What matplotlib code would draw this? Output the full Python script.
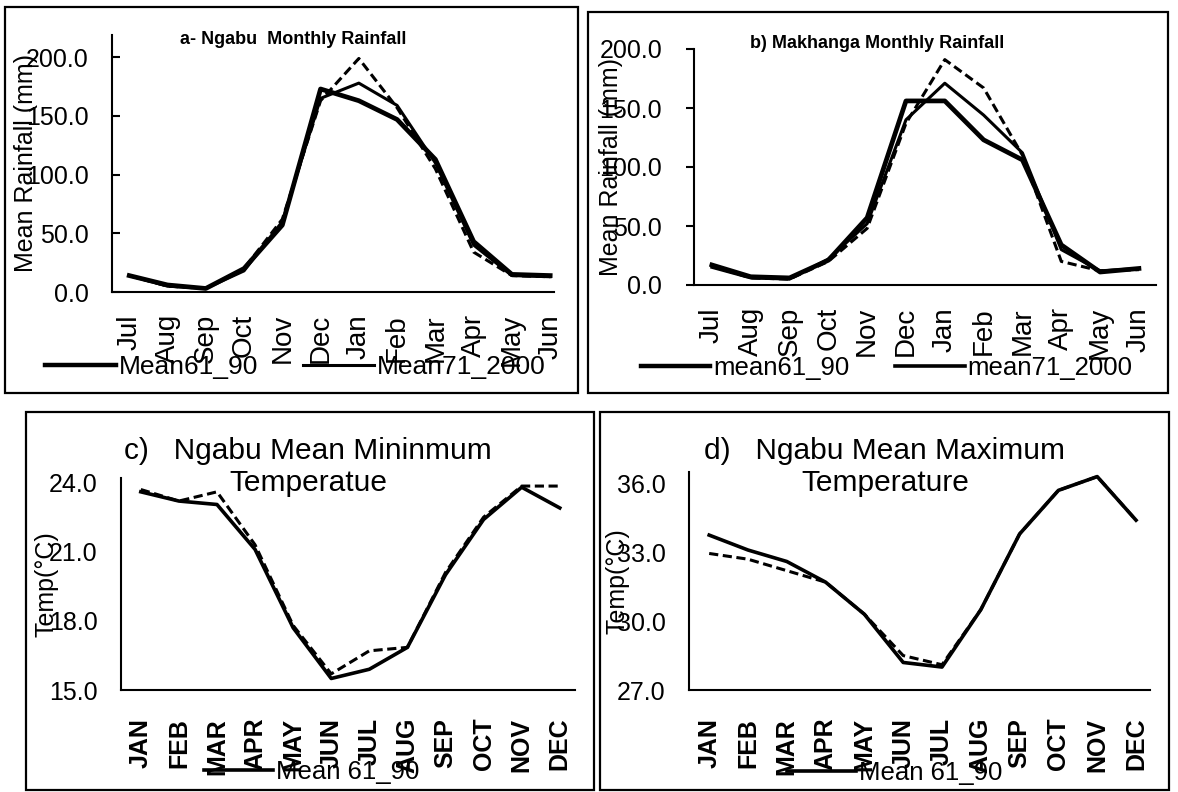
import matplotlib
matplotlib.use('Agg')
import matplotlib.pyplot as plt
from matplotlib.lines import Line2D
from matplotlib.patches import Rectangle

plt.rcParams['font.family'] = ['Liberation Sans', 'DejaVu Sans']

W, H = 1178, 792

# --- data ---
months_rain = ['Jul', 'Aug', 'Sep', 'Oct', 'Nov', 'Dec', 'Jan', 'Feb', 'Mar', 'Apr', 'May', 'Jun']
ngabu_61_90 = [14, 6, 3, 20, 57, 173, 163, 147, 113, 43, 15, 14]
ngabu_71_2000 = [14, 5, 3, 18, 60, 165, 178, 159, 110, 40, 14, 13]
ngabu_other = [14, 5, 3, 20, 62, 163, 199, 157, 105, 34, 14, 13]

mak_61_90 = [17, 7, 6, 21, 57, 156, 156, 123, 106, 34, 11, 14]
mak_71_2000 = [15, 6, 5, 22, 52, 140, 171, 144, 112, 30, 12, 14]
mak_other = [16, 6, 5, 20, 48, 137, 191, 167, 110, 20, 12, 13]

months_temp = ['JAN', 'FEB', 'MAR', 'APR', 'MAY', 'JUN', 'JUL', 'AUG', 'SEP', 'OCT', 'NOV', 'DEC']
tmin_61_90 = [23.6, 23.2, 23.05, 21.1, 17.7, 15.5, 15.9, 16.85, 20.0, 22.4, 23.8, 22.9]
tmin_other = [23.7, 23.2, 23.6, 21.3, 17.8, 15.7, 16.7, 16.85, 20.1, 22.5, 23.85, 23.85]

tmax_61_90 = [33.75, 33.1, 32.6, 31.7, 30.3, 28.2, 28.0, 30.5, 33.8, 35.7, 36.3, 34.4]
tmax_other = [32.95, 32.7, 32.2, 31.7, 30.3, 28.5, 28.1, 30.5, 33.8, 35.7, 36.3, 34.4]


def box(x0, y0, x1, y1):
    # pixel box (top-left origin) -> figure fraction rect
    return [x0 / W, 1 - y1 / H, (x1 - x0) / W, (y1 - y0) / H]


def frame(fig, x0, y0, x1, y1):
    r = Rectangle((x0 / W, 1 - y1 / H), (x1 - x0) / W, (y1 - y0) / H,
                  transform=fig.transFigure, fill=False, lw=1.6, ec='black')
    fig.patches.append(r)


def style(ax, labels, ylim, yticks, xlim, bold=False, tickdir='out', ticklen=0,
          xsize=18, xpad=20):
    for s in ['top', 'right']:
        ax.spines[s].set_visible(False)
    for s in ['left', 'bottom']:
        ax.spines[s].set_linewidth(1.5)
    ax.set_xlim(*xlim)
    ax.set_ylim(*ylim)
    ax.set_xticks(range(len(labels)))
    ax.set_xticklabels(labels, rotation=90, fontsize=xsize,
                       fontweight='bold' if bold else 'normal')
    ax.set_yticks(yticks)
    ax.set_yticklabels([f'{v:.1f}' for v in yticks], fontsize=18)
    ax.tick_params(axis='x', length=0, pad=xpad)
    ax.tick_params(axis='y', length=ticklen, direction=tickdir, width=1.5, pad=17)


def ylab(ax, text, xpos):
    ax.set_ylabel(text, fontsize=18, va='center')
    ax.yaxis.set_label_coords(xpos, 0.5)


fig = plt.figure(figsize=(W / 100, H / 100), dpi=100)

frame(fig, 5, 7, 578, 393)
frame(fig, 588, 12, 1168, 393)
frame(fig, 26, 412, 594, 790)
frame(fig, 600, 412, 1169, 790)

x = range(12)
dash = (0, (3, 1.5))

# a) Ngabu rainfall
ax = fig.add_axes(box(112, 35, 554, 292))
ax.plot(x, ngabu_other, color='black', lw=2.2, ls=dash)
ax.plot(x, ngabu_71_2000, color='black', lw=2.2)
ax.plot(x, ngabu_61_90, color='black', lw=3.4)
style(ax, months_rain, (0, 219), [0, 50, 100, 150, 200], (-0.45, 11.1),
      tickdir='in', ticklen=6, xsize=20, xpad=16)
ylab(ax, 'Mean Rainfall (mm)', -0.195)
fig.text(293 / W, 1 - 40 / H, 'a- Ngabu  Monthly Rainfall', fontsize=13,
         fontweight='bold', ha='center', va='center')
fig.legend(handles=[Line2D([], [], color='black', lw=3.2),
                    Line2D([], [], color='black', lw=2.2)],
           labels=['Mean61_90', 'Mean71_2000'], ncol=2, frameon=False,
           fontsize=19, handlelength=2.7, handletextpad=0.1,
           columnspacing=1.7, loc='center left', borderaxespad=0, borderpad=0,
           bbox_to_anchor=(45 / W, 1 - 367 / H))

# b) Makhanga rainfall
ax = fig.add_axes(box(694, 49, 1156, 285))
ax.plot(x, mak_other, color='black', lw=2.2, ls=dash)
ax.plot(x, mak_71_2000, color='black', lw=2.2)
ax.plot(x, mak_61_90, color='black', lw=3.4)
style(ax, months_rain, (0, 200), [0, 50, 100, 150, 200], (-0.46, 11.44),
      tickdir='out', ticklen=6, xsize=20, xpad=16)
ylab(ax, 'Mean Rainfall (mm)', -0.18)
fig.text(877 / W, 1 - 43 / H, 'b) Makhanga Monthly Rainfall', fontsize=13,
         fontweight='bold', ha='center', va='center')
fig.legend(handles=[Line2D([], [], color='black', lw=3.2),
                    Line2D([], [], color='black', lw=2.6)],
           labels=['mean61_90', 'mean71_2000'], ncol=2, frameon=False,
           fontsize=18.5, handlelength=2.7, handletextpad=0.1,
           columnspacing=1.8, loc='center left', borderaxespad=0, borderpad=0,
           bbox_to_anchor=(641 / W, 1 - 368 / H))

# c) Ngabu mean minimum temperature
ax = fig.add_axes(box(121, 478, 575, 690))
ax.plot(x, tmin_other, color='black', lw=2.2, ls=dash)
ax.plot(x, tmin_61_90, color='black', lw=2.6)
style(ax, months_temp, (15, 24.2), [15, 18, 21, 24], (-0.52, 11.4), bold=True)
ylab(ax, 'Temp(°C)', -0.163)
fig.text(308 / W, 1 - 467 / H, 'c)   Ngabu Mean Mininmum\nTemperatue',
         fontsize=21.5, ha='center', va='center', linespacing=1.15)
fig.legend(handles=[Line2D([], [], color='black', lw=2.6)],
           labels=['Mean 61_90'], frameon=False, fontsize=18.5,
           handlelength=2.7, handletextpad=0.1, loc='center left',
           borderaxespad=0, borderpad=0,
           bbox_to_anchor=(204 / W, 1 - 772 / H))

# d) Ngabu mean maximum temperature
ax = fig.add_axes(box(689, 472, 1150, 690))
ax.plot(x, tmax_other, color='black', lw=2.2, ls=dash)
ax.plot(x, tmax_61_90, color='black', lw=2.6)
style(ax, months_temp, (27, 36.5), [27, 30, 33, 36], (-0.52, 11.36), bold=True)
ylab(ax, 'Temp(°C)', -0.156)
fig.text(885 / W, 1 - 467 / H, 'd)   Ngabu Mean Maximum\nTemperature',
         fontsize=21.5, ha='center', va='center', linespacing=1.15)
fig.legend(handles=[Line2D([], [], color='black', lw=2.6)],
           labels=['Mean 61_90'], frameon=False, fontsize=18.5,
           handlelength=2.7, handletextpad=0.1, loc='center left',
           borderaxespad=0, borderpad=0,
           bbox_to_anchor=(787 / W, 1 - 773 / H))

fig.savefig('out.png', dpi=100)
